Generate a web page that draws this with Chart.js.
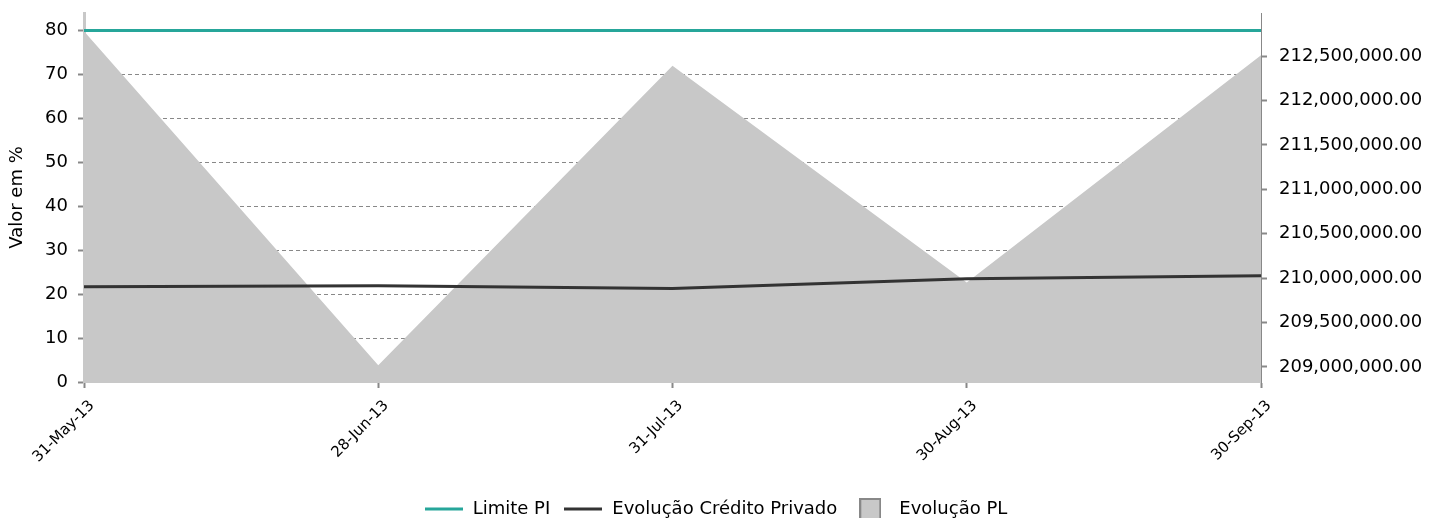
<!DOCTYPE html>
<html>
<head>
<meta charset="utf-8">
<script src="https://cdn.jsdelivr.net/npm/chart.js@4/dist/chart.umd.min.js"></script>
<style>
  html, body { margin: 0; padding: 0; background: #fff; }
  #wrap { width: 1431px; height: 518px; }
</style>
</head>
<body>
<div id="wrap"><canvas id="chart" width="1431" height="518"></canvas></div>
<script>
// values
let labels = ['31-May-13', '28-Jun-13', '31-Jul-13', '30-Aug-13', '30-Sep-13'];
let limitePI = [80, 80, 80, 80, 80];
let creditoPrivado = [21.7, 21.9, 21.3, 23.5, 24.2];
let evolucaoPL = [212780000, 209020000, 212390000, 209950000, 212510000];

let pctTicks = [0, 10, 20, 30, 40, 50, 60, 70, 80];
let plTicks = [209000000, 209500000, 210000000, 210500000, 211000000, 211500000, 212000000, 212500000];

let colors = {
    'limite':  'rgb(38,166,154)',
    'credito': 'rgb(51,51,51)',
    'pl':      'rgb(200,200,200)',
    'plEdge':  'rgb(136,136,136)',
    'axis':    'rgb(200,200,200)',
    'grid':    'rgb(136,136,136)'
};

Chart.defaults.font.family = '"DejaVu Sans", sans-serif';
Chart.defaults.color = '#000';

function lineMarker(color) {
    let c = document.createElement('canvas');
    c.width = 38;
    c.height = 4;
    let ctx = c.getContext('2d');
    ctx.fillStyle = color;
    ctx.fillRect(0, 0.5, 38, 3);
    return c;
}

function boxMarker(fill, edge) {
    let c = document.createElement('canvas');
    c.width = 22;
    c.height = 22;
    let ctx = c.getContext('2d');
    ctx.fillStyle = fill;
    ctx.fillRect(0, 0, 22, 22);
    ctx.strokeStyle = edge;
    ctx.lineWidth = 2;
    ctx.strokeRect(1, 1, 20, 20);
    return c;
}

let markers = [lineMarker(colors.limite), lineMarker(colors.credito), boxMarker(colors.pl, colors.plEdge)];

function moneyFormat(v) {
    return v.toLocaleString('en-US', { minimumFractionDigits: 2, maximumFractionDigits: 2 });
}

// fixed axis sizes, no extra label padding at the top
function fitWidth(w) {
    return (scale) => {
        scale.width = w;
        scale.paddingTop = 0;
        scale.paddingBottom = 0;
    };
}

let chart_data = {
    labels: labels,
    datasets: [
        {
            label: 'Limite PI',
            data: limitePI,
            yAxisID: 'y',
            borderColor: colors.limite,
            borderWidth: 3,
            pointRadius: 0,
            fill: false
        },
        {
            label: 'Evolução Crédito Privado',
            data: creditoPrivado,
            yAxisID: 'y',
            borderColor: colors.credito,
            borderWidth: 3,
            pointRadius: 0,
            fill: false
        },
        {
            label: 'Evolução PL',
            data: evolucaoPL,
            yAxisID: 'y2',
            borderWidth: 0,
            borderColor: colors.pl,
            backgroundColor: colors.pl,
            pointRadius: 0,
            fill: 'start'
        }
    ]
};

let chart_options = {
    responsive: false,
    animation: false,
    devicePixelRatio: 1,
    layout: { padding: { top: 13, left: 0, right: 0, bottom: -10 } },
    plugins: {
        tooltip: { enabled: false },
        legend: {
            position: 'bottom',
            labels: {
                font: { size: 18 },
                usePointStyle: true,
                pointStyleWidth: 40,
                padding: 13,
                generateLabels: (chart) => chart.data.datasets.map((ds, i) => ({
                    text: ds.label,
                    pointStyle: markers[i],
                    fontColor: '#000',
                    fillStyle: 'transparent',
                    strokeStyle: 'transparent',
                    lineWidth: 0,
                    hidden: false,
                    datasetIndex: i
                }))
            }
        }
    },
    scales: {
        x: {
            type: 'category',
            offset: false,
            afterFit: (scale) => { scale.height = 105; },
            grid: { drawOnChartArea: false, color: colors.grid, tickLength: 6, tickWidth: 2 },
            border: { color: colors.axis, width: 2 },
            ticks: { font: { size: 15 }, minRotation: 45, maxRotation: 45, padding: 9, labelOffset: 8 }
        },
        y: {
            position: 'left',
            min: 0,
            max: 84,
            afterFit: fitWidth(84),
            afterBuildTicks: (scale) => { scale.ticks = pctTicks.map((v) => ({ value: v })); },
            grid: { color: colors.grid, lineWidth: 1, tickLength: 6, tickWidth: 2, tickBorderDash: [] },
            border: { color: colors.axis, width: 3, dash: [4, 3] },
            ticks: { font: { size: 18 }, padding: 10 },
            title: { display: true, text: 'Valor em %', font: { size: 18 }, padding: { top: 7, bottom: 0 } }
        },
        y2: {
            position: 'right',
            min: 208830000,
            max: 212985000,
            afterFit: fitWidth(170),
            afterBuildTicks: (scale) => { scale.ticks = plTicks.map((v) => ({ value: v })); },
            grid: { drawOnChartArea: false, color: colors.grid, tickLength: 6, tickWidth: 2 },
            border: { color: colors.grid, width: 1 },
            ticks: { font: { size: 18 }, padding: 12, callback: (v) => moneyFormat(v) }
        }
    }
};

let ctx = document.getElementById('chart').getContext('2d');
let chart = new Chart(ctx, { type: 'line', data: chart_data, options: chart_options });
</script>
</body>
</html>
